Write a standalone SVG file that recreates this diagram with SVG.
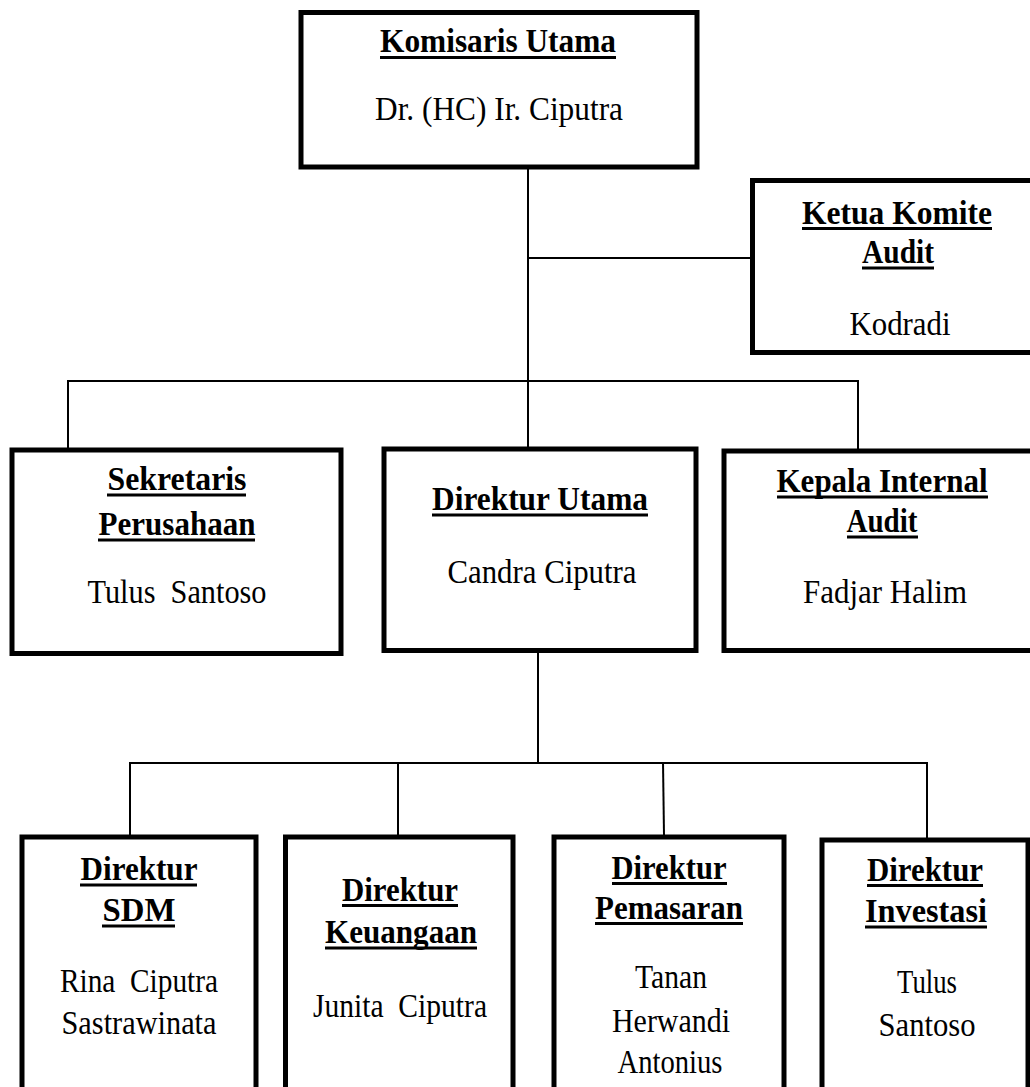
<svg xmlns="http://www.w3.org/2000/svg" width="1030" height="1087" viewBox="0 0 1030 1087">
<style>
.box{fill:#fff;stroke:#000;stroke-width:5;stroke-linejoin:miter}
.t{font-family:"Liberation Serif","Times New Roman",serif;font-size:33px;font-weight:bold;text-anchor:middle;fill:#000}
.n{font-family:"Liberation Serif","Times New Roman",serif;font-size:33px;text-anchor:middle;fill:#000}
.ul{stroke:#000;stroke-width:3}
.c{fill:none;stroke:#000;stroke-width:2}
</style>
<rect width="1030" height="1087" fill="#fff"/>
<g id="connectors">
<path class="c" d="M528 167 V449"/>
<path class="c" d="M528 258 H752"/>
<path class="c" d="M68 381 H858"/>
<path class="c" d="M68 380 V450"/>
<path class="c" d="M858 380 V451"/>
<path class="c" d="M538 650 V763"/>
<path class="c" d="M130 763 H927"/>
<path class="c" d="M130 762 V837"/>
<path class="c" d="M398 762 V837"/>
<path class="c" d="M663 762 L664 835"/>
<path class="c" d="M927 762 V840"/>
</g>
<g id="komisaris-utama">
<rect class="box" x="301" y="12.5" width="396" height="154.5"/>
<text class="t" x="498" y="52" textLength="236" lengthAdjust="spacingAndGlyphs">Komisaris Utama</text>
<line class="ul" x1="380" y1="57.5" x2="616" y2="57.5"/>
<text class="n" x="499" y="120" textLength="248" lengthAdjust="spacingAndGlyphs">Dr. (HC) Ir. Ciputra</text>
</g>
<g id="ketua-komite-audit">
<rect class="box" x="752.5" y="180.5" width="300" height="172"/>
<text class="t" x="897" y="224" textLength="190" lengthAdjust="spacingAndGlyphs">Ketua Komite</text>
<line class="ul" x1="802" y1="228.5" x2="992" y2="228.5"/>
<text class="t" x="898" y="263" textLength="72" lengthAdjust="spacingAndGlyphs">Audit</text>
<line class="ul" x1="862" y1="268" x2="934" y2="268"/>
<text class="n" x="900" y="335" textLength="101" lengthAdjust="spacingAndGlyphs">Kodradi</text>
</g>
<g id="sekretaris-perusahaan">
<rect class="box" x="12" y="450" width="329" height="203.5"/>
<text class="t" x="177" y="490" textLength="139" lengthAdjust="spacingAndGlyphs">Sekretaris</text>
<line class="ul" x1="107" y1="495" x2="246" y2="495"/>
<text class="t" x="177" y="535" textLength="157" lengthAdjust="spacingAndGlyphs">Perusahaan</text>
<line class="ul" x1="98" y1="540" x2="255" y2="540"/>
<text class="n" x="177" y="603" xml:space="preserve" textLength="179" lengthAdjust="spacingAndGlyphs">Tulus  Santoso</text>
</g>
<g id="direktur-utama">
<rect class="box" x="384" y="449" width="312" height="201.5"/>
<text class="t" x="540" y="510" textLength="216" lengthAdjust="spacingAndGlyphs">Direktur Utama</text>
<line class="ul" x1="432" y1="515" x2="648" y2="515"/>
<text class="n" x="542" y="583" textLength="189" lengthAdjust="spacingAndGlyphs">Candra Ciputra</text>
</g>
<g id="kepala-internal-audit">
<rect class="box" x="724" y="451" width="320" height="199.5"/>
<text class="t" x="882" y="492" textLength="211" lengthAdjust="spacingAndGlyphs">Kepala Internal</text>
<line class="ul" x1="777" y1="497" x2="988" y2="497"/>
<text class="t" x="882" y="532" textLength="71" lengthAdjust="spacingAndGlyphs">Audit</text>
<line class="ul" x1="847" y1="537" x2="918" y2="537"/>
<text class="n" x="885" y="603" textLength="164" lengthAdjust="spacingAndGlyphs">Fadjar Halim</text>
</g>
<g id="direktur-sdm">
<rect class="box" x="22" y="837" width="234" height="253"/>
<text class="t" x="139" y="880" textLength="117" lengthAdjust="spacingAndGlyphs">Direktur</text>
<line class="ul" x1="80" y1="885" x2="197" y2="885"/>
<text class="t" x="139" y="921" textLength="73" lengthAdjust="spacingAndGlyphs">SDM</text>
<line class="ul" x1="102" y1="926" x2="175" y2="926"/>
<text class="n" x="139" y="992" xml:space="preserve" textLength="158" lengthAdjust="spacingAndGlyphs">Rina  Ciputra</text>
<text class="n" x="139" y="1034" textLength="155" lengthAdjust="spacingAndGlyphs">Sastrawinata</text>
</g>
<g id="direktur-keuangaan">
<rect class="box" x="285.5" y="837" width="227.5" height="253"/>
<text class="t" x="400" y="901" textLength="116" lengthAdjust="spacingAndGlyphs">Direktur</text>
<line class="ul" x1="342" y1="905.5" x2="458" y2="905.5"/>
<text class="t" x="401" y="943" textLength="152" lengthAdjust="spacingAndGlyphs">Keuangaan</text>
<line class="ul" x1="325" y1="948" x2="477" y2="948"/>
<text class="n" x="400" y="1017" xml:space="preserve" textLength="174" lengthAdjust="spacingAndGlyphs">Junita  Ciputra</text>
</g>
<g id="direktur-pemasaran">
<rect class="box" x="554" y="837" width="230" height="253"/>
<text class="t" x="669" y="879" textLength="115" lengthAdjust="spacingAndGlyphs">Direktur</text>
<line class="ul" x1="612" y1="883.5" x2="727" y2="883.5"/>
<text class="t" x="669" y="919" textLength="148" lengthAdjust="spacingAndGlyphs">Pemasaran</text>
<line class="ul" x1="595" y1="923.5" x2="743" y2="923.5"/>
<text class="n" x="671" y="988" textLength="72" lengthAdjust="spacingAndGlyphs">Tanan</text>
<text class="n" x="671" y="1032" textLength="118" lengthAdjust="spacingAndGlyphs">Herwandi</text>
<text class="n" x="670" y="1073" textLength="105" lengthAdjust="spacingAndGlyphs">Antonius</text>
</g>
<g id="direktur-investasi">
<rect class="box" x="822" y="840" width="206" height="250"/>
<text class="t" x="925" y="881" textLength="116" lengthAdjust="spacingAndGlyphs">Direktur</text>
<line class="ul" x1="867" y1="885.5" x2="983" y2="885.5"/>
<text class="t" x="926" y="922" textLength="122" lengthAdjust="spacingAndGlyphs">Investasi</text>
<line class="ul" x1="865" y1="927" x2="987" y2="927"/>
<text class="n" x="927" y="993" textLength="60" lengthAdjust="spacingAndGlyphs">Tulus</text>
<text class="n" x="927" y="1036" textLength="97" lengthAdjust="spacingAndGlyphs">Santoso</text>
</g>
</svg>
